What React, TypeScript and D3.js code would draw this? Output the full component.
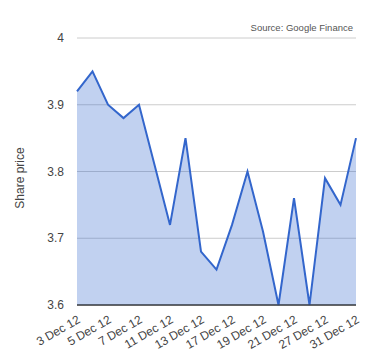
import React from "react";
import * as d3 from "d3";

const dates = ["3 Dec 12","4 Dec 12","5 Dec 12","6 Dec 12","7 Dec 12","10 Dec 12","11 Dec 12","12 Dec 12","13 Dec 12","14 Dec 12","17 Dec 12","18 Dec 12","19 Dec 12","20 Dec 12","21 Dec 12","24 Dec 12","27 Dec 12","28 Dec 12","31 Dec 12"];
const prices = [3.92,3.95,3.90,3.88,3.90,3.81,3.72,3.85,3.68,3.653,3.72,3.80,3.71,3.60,3.76,3.60,3.79,3.75,3.85];
const yTicks = [3.6,3.7,3.8,3.9,4];
const labelEvery = 2;

const W = 380, H = 360;
const left = 77, right = 356, top = 38, bottom = 305;
const font = "Liberation Sans, Arial, sans-serif";

export default function App() {
  const x = d3.scaleLinear().domain([0, dates.length - 1]).range([left, right]);
  const y = d3.scaleLinear().domain([3.6, 4]).range([bottom, top]);
  const data = prices.map((p, i) => ({ i, p }));
  const area = d3.area<{ i: number; p: number }>().x(d => x(d.i)).y0(y(3.6)).y1(d => y(d.p))(data) || "";
  const line = d3.line<{ i: number; p: number }>().x(d => x(d.i)).y(d => y(d.p))(data) || "";
  return (
    <svg width={W} height={H} style={{ position: "absolute", left: 0, top: 0 }}>
      <rect width={W} height={H} fill="#fff" />
      {yTicks.map(t => (
        <g key={t}>
          <line x1={left} x2={right} y1={y(t)} y2={y(t)} stroke={t === 3.6 ? "#333" : "#ccc"} strokeWidth={1} />
          <text x={64} y={y(t)} dy="0.35em" textAnchor="end" fontFamily={font} fontSize={12} fill="#444">{d3.format("~g")(t)}</text>
        </g>
      ))}
      <path d={area} fill="#3366cc" fillOpacity={0.3} />
      <path d={line} fill="none" stroke="#3366cc" strokeWidth={2} strokeLinejoin="miter" />
      <line x1={left} x2={right} y1={y(3.6)} y2={y(3.6)} stroke="#333" strokeWidth={1} />
      {dates.map((d, i) => i % labelEvery === 0 ? (
        <text key={d} transform={`translate(${x(i) + 4},${bottom + 17}) rotate(-30)`} textAnchor="end" fontFamily={font} fontSize={12} fill="#444">{d}</text>
      ) : null)}
      <text transform={`translate(20,178) rotate(-90)`} textAnchor="middle" dy="0.35em" fontFamily={font} fontSize={12} fill="#444">Share price</text>
      <text x={353} y={31} textAnchor="end" fontFamily={font} fontSize={9.5} fill="#555">Source: Google Finance</text>
    </svg>
  );
}
